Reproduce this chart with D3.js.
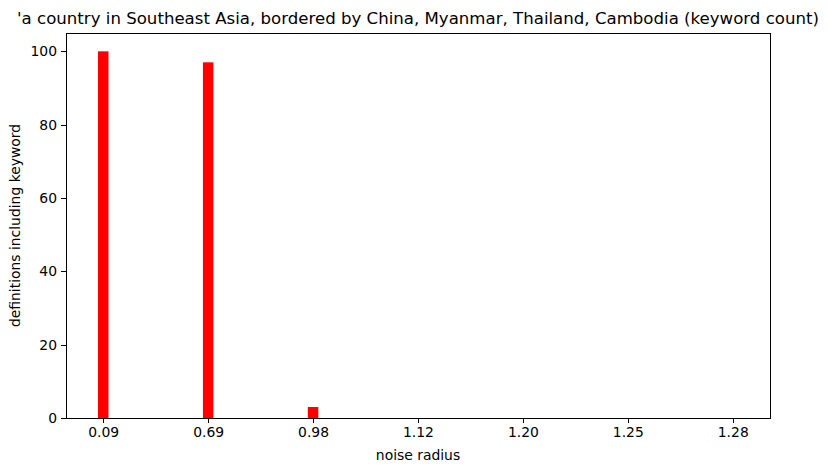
<!DOCTYPE html>
<meta charset="utf-8">
<script src="https://d3js.org/d3.v7.min.js"></script>
<style>
  body { margin: 0; background: #fff; }
  text { font-family: "DejaVu Sans", sans-serif; fill: #000; }
</style>
<div id="chart"></div>
<script>
// data
var categories = ["0.09", "0.69", "0.98", "1.12", "1.20", "1.25", "1.28"];
var counts = [100, 97, 3, 0, 0, 0, 0];
var yTicks = [0, 20, 40, 60, 80, 100];

var W = 828, H = 468;
var margin = {top: 33, right: 58, bottom: 50, left: 66};
var width = W - margin.left - margin.right,
    height = H - margin.top - margin.bottom;

var svg = d3.select("#chart").append("svg")
  .attr("width", W).attr("height", H);
var g = svg.append("g")
  .attr("transform", "translate(" + margin.left + "," + margin.top + ")");

// index-based linear x like matplotlib (bar width 0.1, 5% margins)
var n = categories.length;
var pad = (n - 1 + 0.1) * 0.05 + 0.05;
var x = d3.scaleLinear().domain([-pad, n - 1 + pad]).range([0, width]);
var y = d3.scaleLinear().domain([0, 105]).range([height, 0]);
var bw = x(0.1) - x(0);

g.selectAll(".bar")
  .data(counts)
  .enter().append("rect")
  .attr("class", "bar")
  .attr("x", function(d, i) { return x(i) - bw / 2; })
  .attr("width", bw)
  .attr("y", function(d) { return y(d); })
  .attr("height", function(d) { return height - y(d); })
  .style("fill", "red");

// axes
var xAxis = d3.axisBottom(x)
  .tickValues(d3.range(n))
  .tickFormat(function(i) { return categories[i]; })
  .tickSize(5).tickPadding(4);
var yAxis = d3.axisLeft(y).tickValues(yTicks).tickSize(5).tickPadding(4);

var gx = g.append("g").attr("transform", "translate(0," + height + ")").call(xAxis);
var gy = g.append("g").call(yAxis);
[gx, gy].forEach(function(a) {
  a.select(".domain").remove();
  a.selectAll("text").style("font-size", "13.9px").style("font-family", "DejaVu Sans");
  a.selectAll("line").attr("stroke", "#000").attr("stroke-width", 1)
    .attr("shape-rendering", "crispEdges");
});

// frame
g.append("rect")
  .attr("width", width).attr("height", height)
  .attr("fill", "none").attr("stroke", "#000").attr("stroke-width", 1)
  .attr("shape-rendering", "crispEdges");

// labels
g.append("text")
  .attr("x", width / 2).attr("y", -9)
  .attr("text-anchor", "middle")
  .style("font-size", "16.6px")
  .text("'a country in Southeast Asia, bordered by China, Myanmar, Thailand, Cambodia (keyword count)");

g.append("text")
  .attr("x", width / 2).attr("y", height + 42)
  .attr("text-anchor", "middle")
  .style("font-size", "13.9px")
  .text("noise radius");

g.append("text")
  .attr("transform", "rotate(-90)")
  .attr("x", -height / 2).attr("y", -46)
  .attr("text-anchor", "middle")
  .style("font-size", "13.9px")
  .text("definitions including keyword");
</script>
